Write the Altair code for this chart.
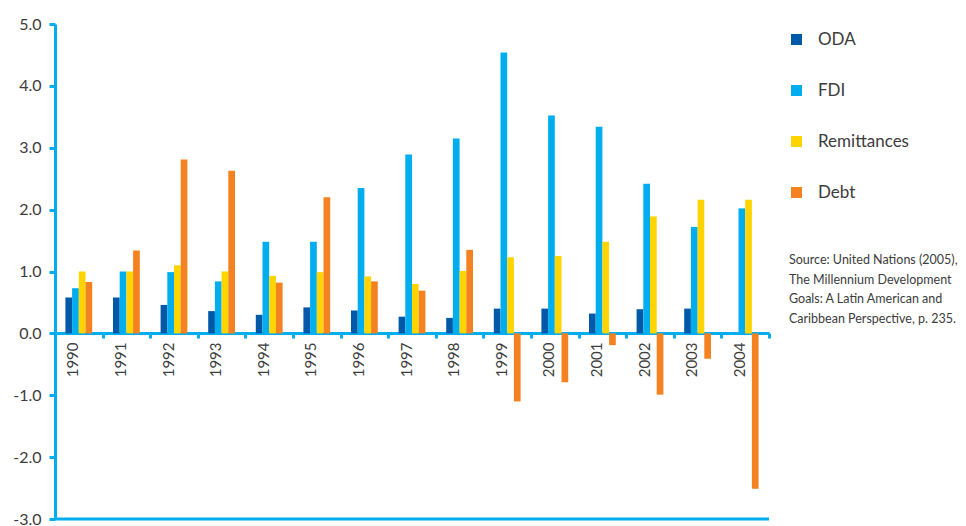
import altair as alt
import pandas as pd

years = [str(y) for y in range(1990, 2005)]
series = ["ODA", "FDI", "Remittances", "Debt"]
colors = ["#0058A8", "#00AEEF", "#FFD400", "#F58220"]

oda = [0.58, 0.58, 0.46, 0.36, 0.30, 0.42, 0.37, 0.27, 0.25, 0.40, 0.40, 0.32, 0.39, 0.40, 0.0]
fdi = [0.73, 1.00, 0.99, 0.84, 1.48, 1.48, 2.35, 2.89, 3.15, 4.54, 3.52, 3.34, 2.42, 1.72, 2.02]
remittances = [1.00, 1.00, 1.10, 1.00, 0.93, 0.99, 0.92, 0.80, 1.01, 1.23, 1.25, 1.48, 1.89, 2.16, 2.16]
debt = [0.83, 1.34, 2.81, 2.63, 0.82, 2.20, 0.84, 0.69, 1.35, -1.10, -0.79, -0.19, -0.99, -0.41, -2.51]

source_note = ("Source: United Nations (2005),\nThe Millennium Development\n"
               "Goals: A Latin American and\nCaribbean Perspective, p. 235.")

rows = []
for name, vals in zip(series, [oda, fdi, remittances, debt]):
    for yr, v in zip(years, vals):
        rows.append({"Year": yr, "Series": name, "Value": v})
df = pd.DataFrame(rows)

FONT = "Lato"
AXIS_BLUE = "#00AEEF"
TEXT = "#3c3c3c"

y_scale = alt.Scale(domain=[-3, 5], nice=False, zero=False)

bars = alt.Chart(df).mark_bar().encode(
    x=alt.X("Year:N", sort=years, title=None,
            scale=alt.Scale(paddingInner=0, paddingOuter=0),
            axis=alt.Axis(offset=-186, domainColor=AXIS_BLUE, domainWidth=3,
                          tickColor=AXIS_BLUE, tickWidth=3, tickSize=5,
                          tickBand="extent", labelAngle=270, labelAlign="right",
                          labelBaseline="middle", labelOffset=-6, labelPadding=4,
                          labelFontSize=15, labelColor=TEXT, labelFont=FONT)),
    # the four bars of a year sit side by side in the middle of its band
    xOffset=alt.XOffset("Series:N", sort=series,
                        scale=alt.Scale(range=[10.4, 37.2], paddingInner=0, paddingOuter=0)),
    y=alt.Y("Value:Q", scale=y_scale, title=None,
            axis=alt.Axis(values=[-3, -2, -1, 0, 1, 2, 3, 4, 5],
                          labelExpr="replace(format(datum.value, '.1f'), '\u2212', '-')",
                          grid=False, domainColor=AXIS_BLUE, domainWidth=3,
                          tickColor=AXIS_BLUE, tickWidth=3, tickSize=6,
                          labelPadding=8, labelFontSize=16, labelColor=TEXT,
                          labelFont=FONT)),
    color=alt.Color("Series:N", sort=series,
                    scale=alt.Scale(domain=series, range=colors),
                    legend=alt.Legend(title=None, orient="none", legendX=733, legendY=7,
                                      symbolType="square", symbolSize=121,
                                      symbolStrokeWidth=0, labelFontSize=17,
                                      labelColor=TEXT, labelFont=FONT,
                                      labelOffset=13, rowPadding=33)),
)

bottom_line = alt.Chart(pd.DataFrame({"v": [-3]})).mark_rule(
    color=AXIS_BLUE, strokeWidth=3
).encode(y=alt.Y("v:Q", scale=y_scale))

note = alt.Chart(pd.DataFrame({"t": [source_note]})).mark_text(
    align="left", baseline="top", fontSize=12.5, lineHeight=19.5, font=FONT,
    color=TEXT, lineBreak="\n"
).encode(x=alt.value(734), y=alt.value(230), text="t:N")

chart = alt.layer(bars, bottom_line, note).properties(
    width=714, height=495,
    autosize=alt.AutoSizeParams(type="none"),
    padding={"left": 55, "top": 24, "right": 197, "bottom": 7},
).configure_view(stroke=None)

chart.save("out.html", embed_options={"renderer": "svg", "actions": False})
